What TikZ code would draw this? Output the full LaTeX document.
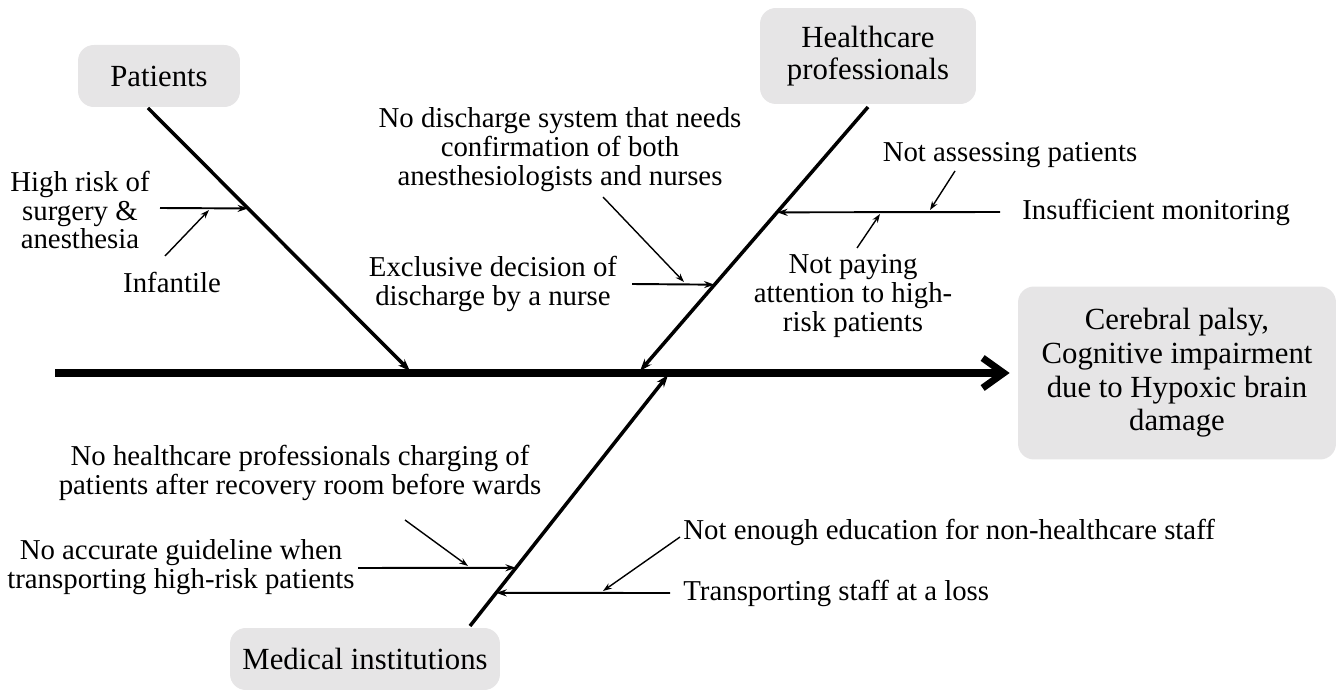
\documentclass[tikz,border=0pt]{standalone}
\usepackage{fontspec}
\setmainfont{Liberation Serif}
\usepackage{xcolor}
\usetikzlibrary{positioning,arrows.meta,calc}

\definecolor{boxgray}{HTML}{E6E5E6}

\begin{document}
\begin{tikzpicture}[
  x=0.02cm, y=-0.02cm,
  cat/.style={rectangle, rounded corners=9pt, fill=boxgray, inner sep=0pt,
              font=\fontsize{17.5}{18.5}\selectfont, align=center},
  lab/.style={font=\fontsize{16.4}{16.5}\selectfont, align=center, inner sep=0pt},
  spine/.style={line width=4pt, -{Straight Barb[length=0.42cm, width=0.6cm]}},
  bone/.style={line width=2pt, -{Stealth[length=7pt, width=5pt]}},
  sub/.style={line width=1.1pt, -{Stealth[length=6pt, width=4pt]}},
  tick/.style={line width=0.8pt, -{Stealth[length=5pt, width=3.5pt]}}
]
\useasboundingbox (0,0) rectangle (1338,695);

% Effect
\node[cat, minimum width=6.36cm, minimum height=3.46cm,
      font=\fontsize{17.5}{19.2}\selectfont] (effect) at (1177,373)
  {Cerebral palsy,\\Cognitive impairment\\due to Hypoxic brain\\damage};

% Spine
\coordinate (tail) at (55,373);
\draw[spine] (tail) -- ($(effect.west)+(-8,0)$);

% Categories
\node[cat, minimum width=3.24cm, minimum height=1.24cm] (pat) at (159,76) {Patients};
\node[cat, minimum width=4.32cm, minimum height=1.92cm] (hcp) at (868,56) {Healthcare\\professionals};
\node[cat, minimum width=5.4cm, minimum height=1.24cm] (med) at (365,659) {Medical institutions};

% Bones
\coordinate (p0) at (148,108);
\coordinate (p1) at (410,371);
\coordinate (h0) at (868,107);
\coordinate (h1) at (640,371);
\coordinate (m0) at (470,626);
\coordinate (m1) at (668,375);
\draw[bone] (p0) -- (p1);
\draw[bone] (h0) -- (h1);
\draw[bone] (m0) -- (m1);

% Patients causes
\node[lab] (hrisk) at (80,210) {High risk of\\surgery \&\\anesthesia};
\node[lab] (infant) at (172,282) {Infantile};
\coordinate (hr-s) at (160,208);
\coordinate (hr-e) at ($(p0)!0.382!(p1)$);
\draw[sub] (hr-s) -- (hr-e);
\coordinate (inf-s) at (165,256);
\coordinate (inf-e) at (209,210);
\draw[tick] (inf-s) -- (inf-e);

% Healthcare professionals causes
\node[lab] (nodis) at (560,150) {No discharge system that needs\\confirmation of both\\anesthesiologists and nurses};
\node[lab] (excl) at (493,284) {Exclusive decision of\\discharge by a nurse};
\coordinate (ex-s) at (632,284);
\coordinate (ex-e) at ($(h0)!0.673!(h1)$);
\draw[sub] (ex-s) -- (ex-e);
\coordinate (nd-s) at (603,197);
\coordinate (nd-e) at (684,282);
\draw[tick] (nd-s) -- (nd-e);

\node[lab, anchor=west] (insuf) at (1022,212) {Insufficient monitoring};
\node[lab] (notass) at (1010,155) {Not assessing patients};
\node[lab] (notpay) at (853,296) {Not paying\\attention to high-\\risk patients};
\coordinate (in-s) at (1000,212);
\coordinate (in-e) at ($(h0)!0.399!(h1)$);
\draw[sub] (in-s) -- (in-e);
\coordinate (na-s) at (955,171);
\coordinate (na-e) at (930,210);
\draw[tick] (na-s) -- (na-e);
\coordinate (np-s) at (857,248);
\coordinate (np-e) at (880,214);
\draw[tick] (np-s) -- (np-e);

% Medical institutions causes
\node[lab] (nohc) at (300,473) {No healthcare professionals charging of\\patients after recovery room before wards};
\node[lab] (noacc) at (181,567) {No accurate guideline when\\transporting high-risk patients};
\coordinate (ac-s) at (358,568);
\coordinate (ac-e) at ($(m0)!0.232!(m1)$);
\draw[sub] (ac-s) -- (ac-e);
\coordinate (hc-s) at (405,520);
\coordinate (hc-e) at (468,566);
\draw[tick] (hc-s) -- (hc-e);

\node[lab, anchor=west] (trans) at (683,593) {Transporting staff at a loss};
\node[lab, anchor=west] (noedu) at (683,532) {Not enough education for non-healthcare staff};
\coordinate (tr-s) at (670,593);
\coordinate (tr-e) at ($(m0)!0.132!(m1)$);
\draw[sub] (tr-s) -- (tr-e);
\coordinate (ed-s) at (680,537);
\coordinate (ed-e) at (603,591);
\draw[tick] (ed-s) -- (ed-e);

\end{tikzpicture}
\end{document}
